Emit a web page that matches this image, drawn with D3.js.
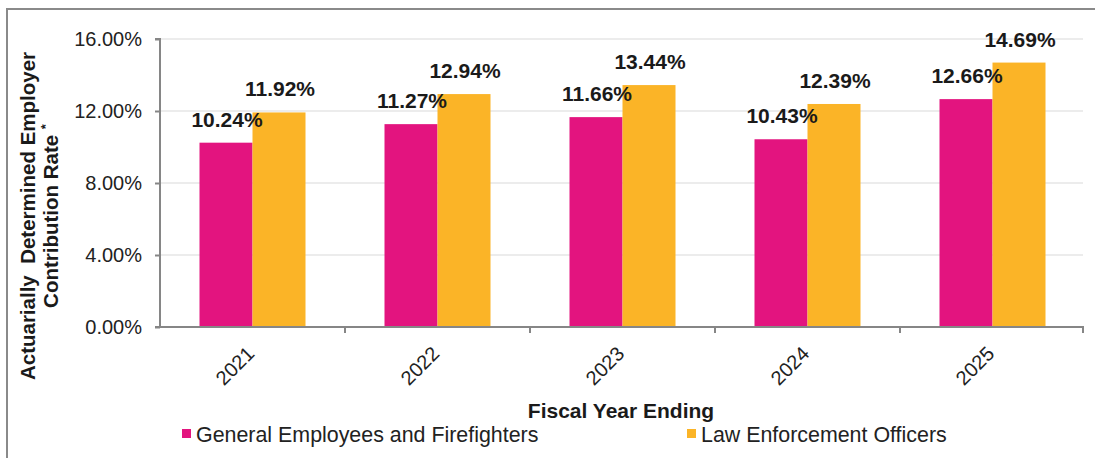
<!DOCTYPE html>
<html>
<head>
<meta charset="utf-8">
<script src="https://cdn.jsdelivr.net/npm/d3@7"></script>
<style>
  html, body { margin: 0; padding: 0; background: #fff; }
  svg { display: block; font-family: "Liberation Sans", Arial, sans-serif; }
</style>
</head>
<body>
<svg id="chart" width="1095" height="458"></svg>
<script>
const categories = ["2021", "2022", "2023", "2024", "2025"];
const seriesNames = ["General Employees and Firefighters", "Law Enforcement Officers"];
const generalEmployees = [10.24, 11.27, 11.66, 10.43, 12.66];
const lawEnforcement = [11.92, 12.94, 13.44, 12.39, 14.69];
const yTicks = [0, 4, 8, 12, 16];
const colors = ["#E3147F", "#FBB427"];

const svg = d3.select("#chart");

// outer frame
svg.append("rect").attr("x", 7).attr("y", 9).attr("width", 1100).attr("height", 470)
  .attr("fill", "none").attr("stroke", "#8a8a8a").attr("stroke-width", 2);

const plot = { left: 160, right: 1085, top: 39, bottom: 327 };

const x0 = d3.scaleBand().domain(categories).range([plot.left, plot.right]).paddingInner(0).paddingOuter(0);
const x1 = d3.scaleBand().domain([0, 1]).range([39.5, x0.bandwidth() - 39.5]).padding(0);
const y = d3.scaleLinear().domain([0, 16]).range([plot.bottom, plot.top]);

// gridlines
svg.append("g").selectAll("line").data(yTicks.filter(d => d > 0)).join("line")
  .attr("x1", plot.left).attr("x2", plot.right - 2)
  .attr("y1", d => y(d)).attr("y2", d => y(d))
  .attr("stroke", "#d9d9d9").attr("stroke-width", 1);

// bars
const data = categories.map((c, i) => ({ cat: c, vals: [generalEmployees[i], lawEnforcement[i]] }));
const groups = svg.append("g").selectAll("g").data(data).join("g")
  .attr("transform", d => `translate(${x0(d.cat)},0)`);
groups.selectAll("rect").data(d => d.vals.map((v, k) => ({ v, k }))).join("rect")
  .attr("x", d => x1(d.k)).attr("width", x1.bandwidth())
  .attr("y", d => y(d.v)).attr("height", d => y(0) - y(d.v))
  .attr("fill", d => colors[d.k]);

// y axis
const yAxis = d3.axisLeft(y).tickValues(yTicks).tickSize(5).tickPadding(13)
  .tickFormat(d => d3.format(".2f")(d) + "%");
const gy = svg.append("g").attr("transform", `translate(${plot.left},0)`).call(yAxis);
gy.select(".domain").attr("stroke", "#868686").attr("stroke-width", 2).attr("d", `M-5,${plot.top}H0V${plot.bottom}H-5`);
gy.selectAll(".tick line").attr("stroke", "#868686").attr("stroke-width", 2);
gy.selectAll(".tick text").attr("font-size", 20).attr("fill", "#222")
  .attr("font-family", "Liberation Sans, Arial, sans-serif");

// x axis
const xAxis = d3.axisBottom(x0).tickSize(0).tickFormat("");
const gx = svg.append("g").attr("transform", `translate(0,${plot.bottom})`).call(xAxis);
gx.select(".domain").attr("stroke", "#868686").attr("stroke-width", 2)
  .attr("d", `M${plot.left},0H${plot.right - 2}V6`);
const bounds = categories.slice(1).map(c => x0(c));
gx.append("g").selectAll("line").data(bounds).join("line")
  .attr("x1", d => d).attr("x2", d => d).attr("y1", 0).attr("y2", 6)
  .attr("stroke", "#868686").attr("stroke-width", 2);
svg.append("g").selectAll("text").data(categories).join("text")
  .attr("transform", d => `translate(${x0(d) + x0.bandwidth() / 2 + 3},355) rotate(-45)`)
  .attr("text-anchor", "end").attr("font-size", 20).attr("fill", "#222")
  .text(d => d);

// data labels
groups.selectAll("text.lbl").data(d => d.vals.map((v, k) => ({ v, k }))).join("text")
  .attr("class", "lbl")
  .attr("x", d => x1(d.k) + x1.bandwidth() / 2 + 1)
  .attr("y", d => y(d.v) - 16)
  .attr("text-anchor", "middle").attr("font-size", 21).attr("font-weight", "bold")
  .attr("fill", "#1a1a1a")
  .text(d => d3.format(".2f")(d.v) + "%");

// y axis title
const yt = svg.append("text").attr("transform", "translate(35,216) rotate(-90)")
  .attr("text-anchor", "middle").attr("font-size", 20.5).attr("font-weight", "bold").attr("fill", "#1a1a1a");
yt.append("tspan").attr("x", 0).attr("dy", 0).attr("xml:space", "preserve").text("Actuarially  Determined Employer");
yt.append("tspan").attr("x", 0).attr("dy", 23).text("Contribution Rate ");
yt.append("tspan").attr("font-size", 13).attr("dy", -8).text("*");

// x axis title
svg.append("text").attr("x", 621).attr("y", 418).attr("text-anchor", "middle")
  .attr("font-size", 21).attr("font-weight", "bold").attr("fill", "#1a1a1a")
  .text("Fiscal Year Ending");

// legend
const legendPos = [182, 687];
const lg = svg.append("g").selectAll("g").data(seriesNames).join("g")
  .attr("transform", (d, i) => `translate(${legendPos[i]},429)`);
lg.append("rect").attr("width", 9).attr("height", 9).attr("fill", (d, i) => colors[i]);
lg.append("text").attr("x", 14).attr("y", 13).attr("font-size", 21.4).attr("fill", "#222").text(d => d);
</script>
</body>
</html>
